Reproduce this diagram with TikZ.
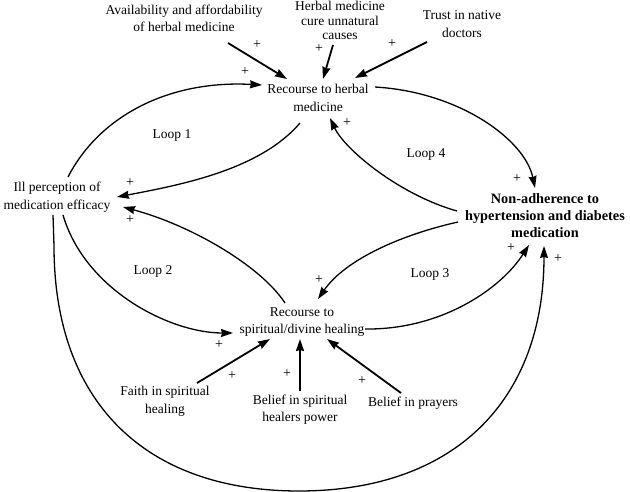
\documentclass[tikz,border=0pt]{standalone}
\usepackage{fontspec}
\setmainfont{Liberation Serif}
\usetikzlibrary{arrows.meta,calc}
\begin{document}
\begin{tikzpicture}[x=1pt,y=-1pt,
  lbl/.style={inner sep=0pt,align=center,font=\fontsize{13.5}{17.5}\selectfont},
  boldlbl/.style={inner sep=0pt,align=center,font=\fontsize{14.3}{17}\selectfont\bfseries},
  pl/.style={inner sep=0pt,font=\fontsize{14}{14}\selectfont},
  cur/.style={line width=1.3pt,-{Stealth[length=12pt,width=8pt,inset=1pt]}},
  str/.style={line width=1.8pt,-{Stealth[length=12pt,width=8pt,inset=1pt]}}]
\useasboundingbox (0,0) rectangle (630,492);
% nodes
\node[lbl] (avail) at (184,18.5) {Availability and affordability\\of herbal medicine};
\node[lbl,font=\fontsize{13.5}{14.3}\selectfont] (cure) at (340,20.5) {Herbal medicine\\cure unnatural\\causes};
\node[lbl] (trust) at (462,24) {Trust in native\\doctors};
\node[lbl] (herb) at (318,98) {Recourse to herbal\\medicine};
\node[lbl] (ill) at (57,197) {Ill perception of\\medication efficacy};
\node[boldlbl] (non) at (545,216) {Non-adherence to\\hypertension and diabetes\\medication};
\node[lbl] (spirit) at (302,322) {Recourse to\\spiritual/divine healing};
\node[lbl] (faith) at (165,401.5) {Faith in spiritual\\healing};
\node[lbl] (belsp) at (300,409.5) {Belief in spiritual\\healers power};
\node[lbl] (pray) at (413,403) {Belief in prayers};
\node[lbl] (l1) at (172,135) {Loop 1};
\node[lbl] (l4) at (426,154) {Loop 4};
\node[lbl] (l2) at (153,271) {Loop 2};
\node[lbl] (l3) at (430,274) {Loop 3};
% plus signs
\node[pl] (p1) at (257,45) {+};
\node[pl] (p2) at (245,72) {+};
\node[pl] (p3) at (319,49) {+};
\node[pl] (p4) at (392,44) {+};
\node[pl] (p5) at (347,123) {+};
\node[pl] (p6) at (517,179) {+};
\node[pl] (p7) at (130,183) {+};
\node[pl] (p8) at (130,220) {+};
\node[pl] (p9) at (511,248) {+};
\node[pl] (p10) at (558,259) {+};
\node[pl] (p11) at (319,280) {+};
\node[pl] (p12) at (219,345) {+};
\node[pl] (p13) at (232,376) {+};
\node[pl] (p14) at (287,374) {+};
\node[pl] (p15) at (362,381) {+};
% straight arrows
\draw[str] ($(avail)+(44,24.5)$) -- ($(herb)+(-31,-19)$);
\draw[str] ($(cure)+(-7,24.5)$) -- ($(herb)+(5,-19)$);
\draw[str] ($(trust)+(-35,18)$) -- ($(herb)+(37,-20)$);
\draw[str] ($(faith)+(32,-18.5)$) -- ($(spirit)+(-32,17)$);
\draw[str] ($(belsp)+(0,-18.5)$) -- ($(spirit)+(-2,17)$);
\draw[str] ($(pray)+(-12,-10)$) -- ($(spirit)+(25,17)$);
% curved arrows
\draw[cur] ($(ill)+(11,-20)$) .. controls (100,115) and (170,80) .. ($(herb)+(-56,-13)$);
\draw[cur] ($(herb)+(-18,25)$) .. controls (260,170) and (180,185) .. ($(ill)+(60,0)$);
\draw[cur] ($(herb)+(57,-11)$) .. controls (460,92) and (525,140) .. ($(non)+(-10,-28)$);
\draw[cur] ($(non)+(-88,-5)$) .. controls (400,195) and (345,150) .. ($(herb)+(12,20)$);
\draw[cur] ($(non)+(-87,6)$) .. controls (400,235) and (345,260) .. ($(spirit)+(16,-23)$);
\draw[cur] ($(spirit)+(63,7)$) .. controls (440,330) and (500,290) .. ($(non)+(-16,29)$);
\draw[cur] ($(spirit)+(-17,-19)$) .. controls (260,265) and (190,225) .. ($(ill)+(66,10)$);
\draw[cur] ($(ill)+(6,18)$) .. controls (85,290) and (170,333) .. ($(spirit)+(-69,11)$);
\draw[cur] ($(ill)+(-4,18)$) -- (54,246) .. controls (54,401) and (144,491) .. (299,491)
  .. controls (454,491) and (544,401) .. ($(non)+(-1,30)$);
\end{tikzpicture}
\end{document}
